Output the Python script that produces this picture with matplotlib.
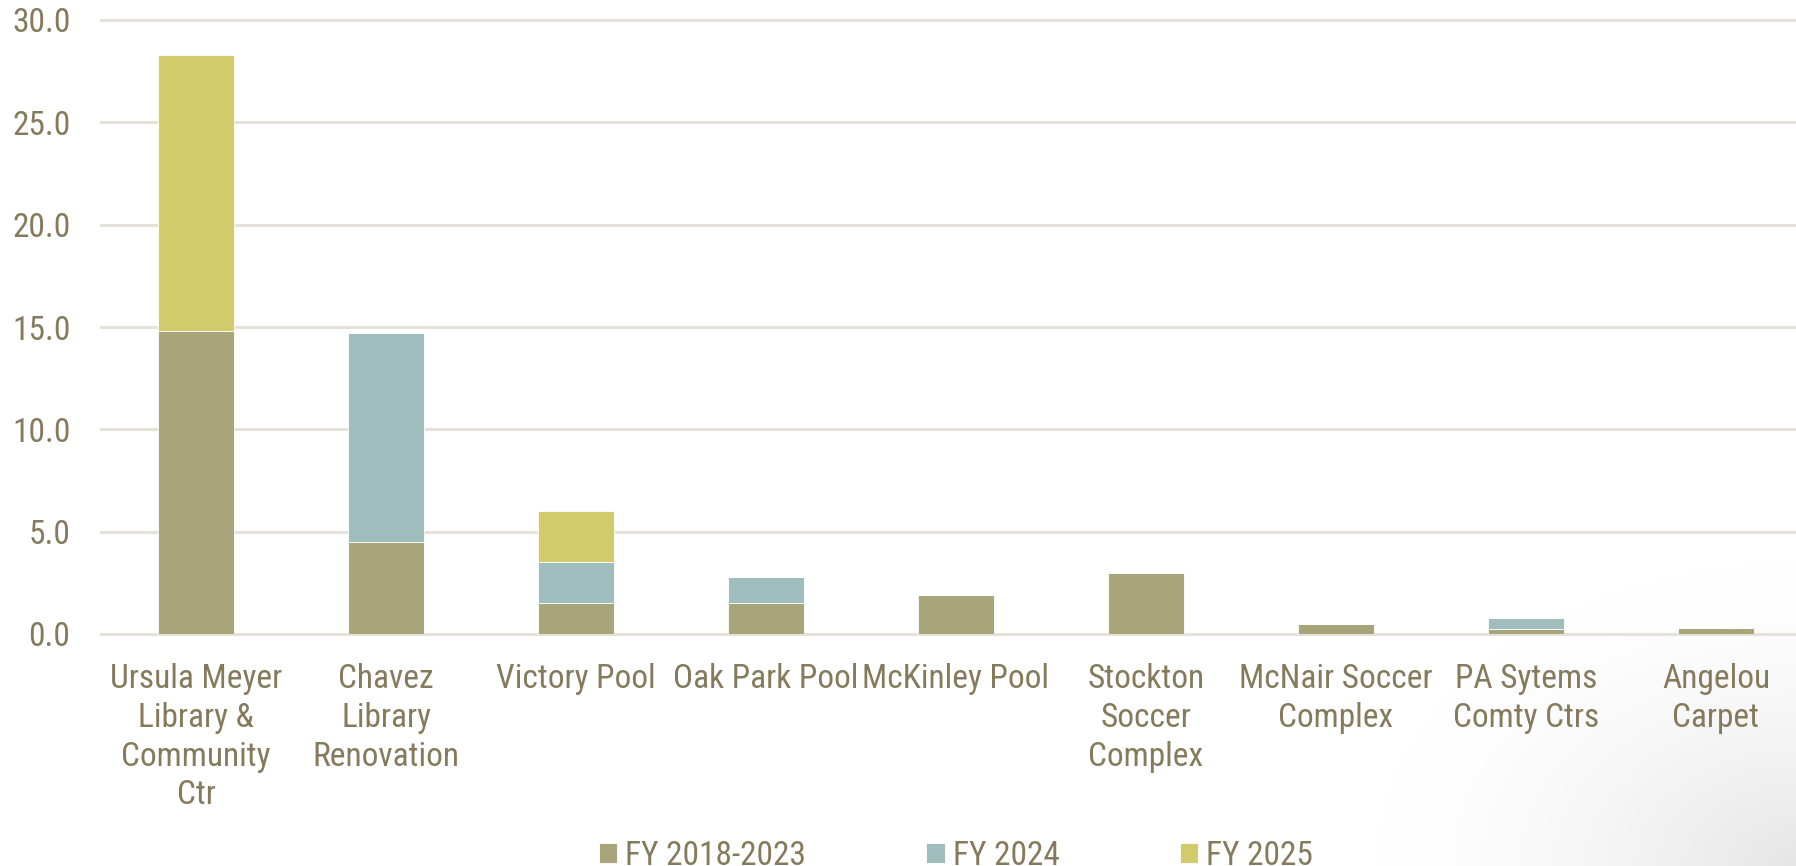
import numpy as np
import matplotlib
matplotlib.use("Agg")
import matplotlib.pyplot as plt
from matplotlib import font_manager as fm

categories = ["Ursula Meyer\nLibrary &\nCommunity\nCtr", "Chavez\nLibrary\nRenovation", "Victory Pool",
              "Oak Park Pool", "McKinley Pool", "Stockton\nSoccer\nComplex", "McNair Soccer\nComplex",
              "PA Sytems\nComty Ctrs", "Angelou\nCarpet"]
fy_2018_2023 = [14.8, 4.5, 1.5, 1.5, 1.9, 3.0, 0.5, 0.25, 0.3]
fy_2024 = [0.0, 10.2, 2.0, 1.3, 0.0, 0.0, 0.0, 0.55, 0.0]
fy_2025 = [13.5, 0.0, 2.5, 0.0, 0.0, 0.0, 0.0, 0.0, 0.0]
series_names = ["FY 2018-2023", "FY 2024", "FY 2025"]
yticks = [0, 5, 10, 15, 20, 25, 30]

names = {f.name for f in fm.fontManager.ttflist}
fam = [f for f in ["Liberation Sans Narrow", "Roboto Condensed", "Open Sans", "DejaVu Sans"] if f in names]
plt.rcParams['font.family'] = fam

txt = "#857a5b"
colors = ["#a8a57b", "#9ebdbc", "#d2cb6c"]
grid = "#e6e2d9"

W, H = 1796, 866
fig = plt.figure(figsize=(W / 100, H / 100), dpi=100)

# subtle background shade (bottom right)
bg = fig.add_axes([0, 0, 1, 1], zorder=-10)
yy, xx = np.mgrid[0:H:4, 0:W:4]
d = np.sqrt(((W - xx) / 420.0) ** 2 + ((H - yy) / 300.0) ** 2)
shade = np.clip(1 - d, 0, 1) ** 1.5 * 0.10
img = np.ones((yy.shape[0], yy.shape[1], 3)) * (1 - shade[..., None])
bg.imshow(img, extent=[0, 1, 0, 1], aspect='auto', interpolation='bilinear')
bg.axis('off')

ax = fig.add_axes([101 / W, 1 - 634 / H, 1710 / W, 614 / H])
ax.patch.set_alpha(0)
x = np.arange(len(categories))
b1 = np.array(fy_2018_2023)
b2 = np.array(fy_2024)
b3 = np.array(fy_2025)
kw = dict(width=0.4, edgecolor="white", linewidth=0.6, zorder=3)
h1 = ax.bar(x, b1, color=colors[0], label=series_names[0], **kw)
h2 = ax.bar(x, b2, bottom=b1, color=colors[1], label=series_names[1], **kw)
h3 = ax.bar(x, b3, bottom=b1 + b2, color=colors[2], label=series_names[2], **kw)

ax.set_xlim(-0.5, len(categories) - 0.5)
ax.set_ylim(0, 30)
ax.set_yticks(yticks)
ax.set_yticklabels([f"{v:.1f}" for v in yticks])
for v in yticks:
    ax.axhline(v, color=grid, lw=2.2, zorder=1, clip_on=False)
for s in ax.spines.values():
    s.set_visible(False)
ax.tick_params(axis='both', length=0, colors=txt, labelsize=24)
ax.tick_params(axis='y', pad=22)
ax.tick_params(axis='x', pad=21)
ax.set_xticks(x)
ax.set_xticklabels(categories, linespacing=1.27)

fig.legend(handles=[h1, h2, h3], labels=series_names, loc='center', bbox_to_anchor=(956 / W, 1 - 856 / H),
           ncol=3, frameon=False, fontsize=24, labelcolor=txt, handlelength=0.55, handleheight=0.55,
           handletextpad=0.25, columnspacing=3.6)

fig.savefig("out.png", dpi=100)
